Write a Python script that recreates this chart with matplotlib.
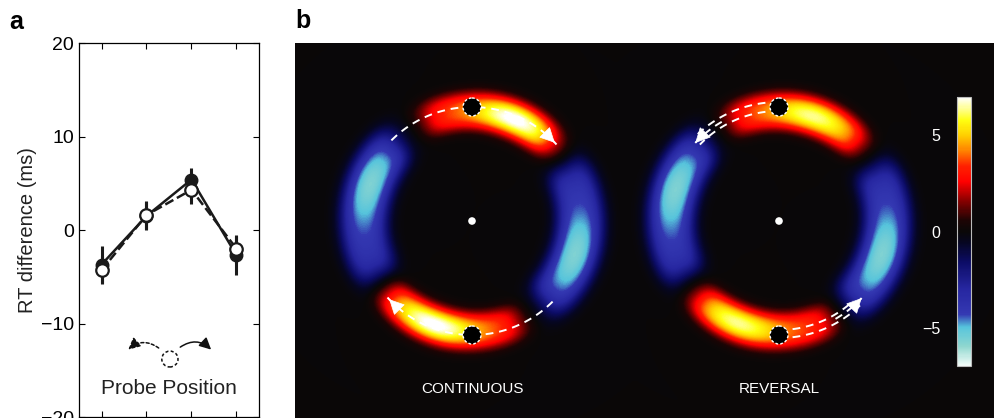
import matplotlib
matplotlib.use("Agg")
import matplotlib.pyplot as plt
import numpy as np
from matplotlib.colors import LinearSegmentedColormap
from matplotlib.patches import Circle, Ellipse, FancyArrowPatch

plt.rcParams['font.family'] = ['Liberation Sans', 'DejaVu Sans']

# ---- panel a data ----
probe_pos = [1, 2, 3, 4]
rt_filled = [-3.7, 1.5, 5.4, -2.7]
err_filled = [2.0, 1.5, 1.2, 2.1]
rt_open = [-4.3, 1.6, 4.3, -2.0]
err_open = [1.5, 1.5, 1.5, 1.5]
y_ticks = [-20, -10, 0, 10, 20]

# ---- panel b data: arcs on each ring (angle deg, ccw from +x) ----
# order: top red, bottom red, left blue, right blue
arc_radius = [110, 110, 108, 108]
arc_thick = [15, 15, 19, 19]

cont_arc_center = [80, 258, 172, -9]
cont_arc_halfwidth = [35, 37, 38, 39]
cont_arc_level = [3.4, 3.4, -3.9, -3.9]
cont_hot_angle = [67, 250, 160, -18]
cont_hot_level = [3.8, 3.8, -1.8, -1.8]

rev_arc_center = [80, 261, 172, -10]
rev_arc_halfwidth = [36, 37, 38, 39]
rev_arc_level = [3.4, 3.4, -3.9, -3.9]
rev_hot_angle = [72, 248, 163, -18]
rev_hot_level = [3.0, 3.0, -1.8, -1.8]

cbar_ticks = [-5, 0, 5]
cmap_vals = [-7, -6, -5, -4.3, -3, -1.6, -0.6, 0, 0.6, 1.6, 2.6, 3.4, 4.3, 5.0, 5.8, 6.5, 7]
cmap_cols = ['#f4fcf9', '#8fd7cf', '#56c4dc', '#3438b2', '#2626a0', '#0c0c66', '#060622',
             '#0a0808', '#1e0404', '#880000', '#ff0000', '#ff2000', '#ff8a00', '#ffcc00',
             '#ffff10', '#ffffa0', '#ffffff']

fig = plt.figure(figsize=(9.95, 4.18), dpi=100)
W, H = 995.0, 418.0

# ================= panel a =================
ax = fig.add_axes([79 / W, 1 - 417 / H, 180 / W, 374 / H])
ax.errorbar(probe_pos, rt_filled, yerr=err_filled, fmt='none', ecolor='#1a1a1a', elinewidth=2.2)
ax.errorbar(probe_pos, rt_open, yerr=err_open, fmt='none', ecolor='#1a1a1a', elinewidth=2.2)
ax.plot(probe_pos, rt_filled, '-', color='#1a1a1a', lw=1.8, marker='o', ms=9,
        mfc='#1a1a1a', mec='#1a1a1a', zorder=3)
ax.plot(probe_pos, rt_open, '--', color='#1a1a1a', lw=1.8, marker='o', ms=9,
        mfc='white', mec='#1a1a1a', mew=1.6, zorder=4)
ax.set_xlim(0.5, 4.5)
ax.set_ylim(-20, 20)
ax.set_xticks(probe_pos)
ax.set_xticklabels([])
ax.set_yticks(y_ticks)
ax.set_yticklabels(['\u221220', '\u221210', '0', '10', '20'])
ax.tick_params(direction='in', top=True, right=True, length=4, labelsize=14, width=0.8)
ax.set_ylabel('RT difference (ms)', fontsize=14.5, labelpad=3, color='#222222')
for s in ax.spines.values():
    s.set_linewidth(0.9)

ax.add_patch(Ellipse((2.52, -13.8), 0.36, 1.7, fill=False, ls=(0, (2, 1.5)), lw=1.1, ec='#111111'))
ax.add_patch(FancyArrowPatch((2.32, -12.8), (1.55, -13.0), connectionstyle='arc3,rad=0.45',
                             arrowstyle='-|>,head_length=0.5,head_width=0.25', mutation_scale=14,
                             ls=(0, (2, 1.5)), lw=1.1, color='#111111'))
ax.add_patch(FancyArrowPatch((2.70, -12.7), (3.48, -13.0), connectionstyle='arc3,rad=-0.45',
                             arrowstyle='-|>,head_length=0.5,head_width=0.25', mutation_scale=14,
                             lw=1.1, color='#111111'))
ax.text(2.5, -16.9, 'Probe Position', ha='center', va='center', fontsize=15, color='#222222')

fig.text(9 / W, 1 - 22 / H, 'a', fontsize=18, fontweight='bold', va='center')
fig.text(295 / W, 1 - 21 / H, 'b', fontsize=18, fontweight='bold', va='center')

# ================= panel b =================
bx = fig.add_axes([295 / W, 0, 700 / W, 375 / H])
bx.set_facecolor('#0a0808')
x0, x1, y0, y1 = 295, 995, 43, 418
X, Y = np.meshgrid(np.arange(x0, x1) + 0.5, np.arange(y0, y1) + 0.5)

HOT_SIG_A = 16.0
EDGE = 8.0


def ring_field(cx, cy, centers, halfwidths, levels, hot_angles, hot_levels):
    dx = X - cx
    dy = cy - Y
    r = np.hypot(dx, dy)
    th = np.degrees(np.arctan2(dy, dx))
    f = np.zeros_like(X)
    for c, hw, lv, ha, hl, rr, tk in zip(centers, halfwidths, levels, hot_angles,
                                         hot_levels, arc_radius, arc_thick):
        radial = np.exp(-0.5 * np.abs((r - rr) / tk) ** 3)
        d = (th - c + 180) % 360 - 180
        ang = 0.5 * (np.tanh((d + hw) / EDGE) - np.tanh((d - hw) / EDGE))
        f += lv * ang * radial
        d = (th - ha + 180) % 360 - 180
        f += hl * np.exp(-0.5 * (d / HOT_SIG_A) ** 2) * np.exp(-0.5 * ((r - rr) / (0.75 * tk)) ** 2)
    return f


rings = [(472, 221), (779, 221)]
field = ring_field(*rings[0], cont_arc_center, cont_arc_halfwidth, cont_arc_level,
                   cont_hot_angle, cont_hot_level)
field += ring_field(*rings[1], rev_arc_center, rev_arc_halfwidth, rev_arc_level,
                    rev_hot_angle, rev_hot_level)

cmap = LinearSegmentedColormap.from_list(
    'rt', list(zip([(v + 7) / 14 for v in cmap_vals], cmap_cols)))
im = bx.imshow(field, cmap=cmap, vmin=-7, vmax=7, extent=(x0, x1, y1, y0),
               interpolation='bilinear', aspect='auto')
bx.set_xlim(x0, x1)
bx.set_ylim(y1, y0)
bx.axis('off')


def arc_pts(cx, cy, r, a_start, a_end, n=60):
    t = np.radians(np.linspace(a_start, a_end, n))
    return cx + r * np.cos(t), cy - r * np.sin(t)


def dashed_arc(cx, cy, r, a_start, a_end, head=True):
    px, py = arc_pts(cx, cy, r, a_start, a_end)
    bx.plot(px, py, color='white', lw=1.4, ls=(0, (4, 3)), zorder=3)
    if head:
        bx.add_patch(FancyArrowPatch((px[-4], py[-4]), (px[-1], py[-1]),
                                     arrowstyle='-|>,head_length=0.7,head_width=0.35',
                                     mutation_scale=14, color='white', lw=0.5, zorder=4))


# continuous: single arcs through probe positions
cx, cy = rings[0]
dashed_arc(cx, cy, 114, 135, 42)
dashed_arc(cx, cy, 114, 315, 222)
# reversal: double arcs heading back
cx, cy = rings[1]
dashed_arc(cx, cy, 119, 90, 134, head=False)
dashed_arc(cx, cy, 110, 90, 136, head=False)
dashed_arc(cx, cy, 114.5, 120, 137)
dashed_arc(cx, cy, 117, 270, 315, head=False)
dashed_arc(cx, cy, 109, 270, 313, head=False)
dashed_arc(cx, cy, 113, 300, 317)

for cx, cy in rings:
    for sgn in (-1, 1):
        bx.add_patch(Circle((cx, cy + sgn * 114), 9, fc='black', ec='white', lw=1.0,
                            ls=(0, (2, 1.5)), zorder=5))
    bx.add_patch(Circle((cx, cy), 3.8, fc='white', ec='none', zorder=5))

bx.text(472, 389, 'CONTINUOUS', color='white', ha='center', va='center', fontsize=11)
bx.text(779, 389, 'REVERSAL', color='white', ha='center', va='center', fontsize=11)

# colorbar
cax = fig.add_axes([957 / W, 1 - 366 / H, 14 / W, 269 / H])
cb = fig.colorbar(im, cax=cax, ticks=cbar_ticks)
cb.ax.yaxis.set_ticks_position('left')
cb.ax.tick_params(length=0, labelsize=11.5, labelcolor='white', pad=12)
cb.ax.set_yticklabels(['\u22125', '0', '5'])
cb.outline.set_edgecolor('#bbbbbb')
cb.outline.set_linewidth(0.8)

fig.savefig('out.png', dpi=100, facecolor='white')
